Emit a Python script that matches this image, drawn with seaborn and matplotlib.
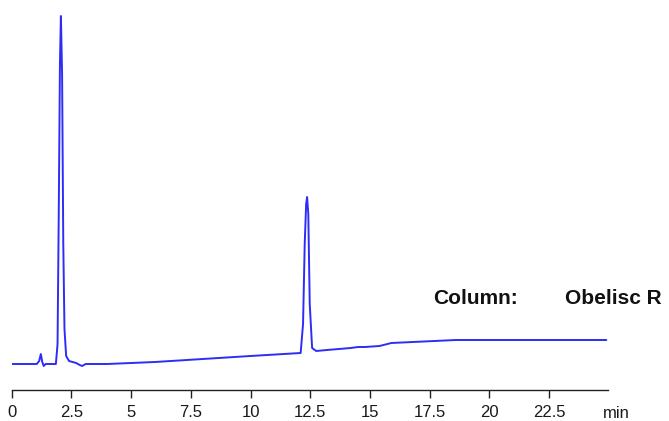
import numpy as np
import pandas as pd
import matplotlib
matplotlib.use("Agg")
import matplotlib.pyplot as plt
import seaborn as sns

# chromatogram (time in min, signal in arbitrary units)
time_min = [0.0, 1.05, 1.15, 1.22, 1.28, 1.34, 1.42, 1.85, 1.92, 1.97, 2.02, 2.06,
            2.11, 2.16, 2.21, 2.28, 2.4, 2.7, 2.85, 2.95, 3.1, 4.0, 6.0, 8.0,
            10.0, 12.1, 12.2, 12.27, 12.33, 12.37, 12.42, 12.48, 12.58, 12.75,
            13.2, 14.2, 14.5, 14.8, 15.4, 15.9, 16.8, 18.6, 24.9]
signal = [0, 0, 3, 10, 2, -2, 0, 0, 20, 150, 300, 348,
          290, 120, 35, 8, 3, 1, -1, -2, 0, 0, 2, 5,
          8, 11, 40, 120, 160, 167, 150, 60, 16, 13,
          14, 16, 17, 17, 18, 21, 22, 24, 24]

tick_pos = [0, 2.5, 5, 7.5, 10, 12.5, 15, 17.5, 20, 22.5]
tick_labels = ["0", "2.5", "5", "7.5", "10", "12.5", "15", "17.5", "20", "22.5"]

df = pd.DataFrame({"time": time_min, "signal": signal})

sns.set_style("white")
plt.rcParams["font.family"] = ["Liberation Sans", "DejaVu Sans"]

fig = plt.figure(figsize=(6.69, 4.21), dpi=100)
ax = fig.add_axes([11.7 / 669, 31 / 421, 596.3 / 669, 375 / 421])

sns.lineplot(data=df, x="time", y="signal", ax=ax, color="#2d2df7", linewidth=1.4)

ax.set_xlim(0, 24.97)
ax.set_ylim(-26, 349)
ax.set_xticks(tick_pos)
ax.set_xticklabels(tick_labels, fontsize=12, color="#1a1a1a")
ax.set_yticks([])
ax.set_xlabel("")
ax.set_ylabel("")
for s in ["top", "right", "left"]:
    ax.spines[s].set_visible(False)
ax.spines["bottom"].set_color("#222222")
ax.spines["bottom"].set_linewidth(1.0)
ax.tick_params(axis="x", direction="out", length=6, width=1, color="#222222", pad=4.5, bottom=True)

fig.text(603 / 669, 1 - 413 / 421, "min", fontsize=12, color="#1a1a1a", va="center", ha="left")
fig.text(433 / 669, 1 - 298 / 421, "Column:", fontsize=15, fontweight="bold", color="#111111",
         va="center", ha="left")
fig.text(565 / 669, 1 - 298 / 421, "Obelisc R", fontsize=15, fontweight="bold", color="#111111",
         va="center", ha="left")

fig.savefig("out.png", dpi=100)
